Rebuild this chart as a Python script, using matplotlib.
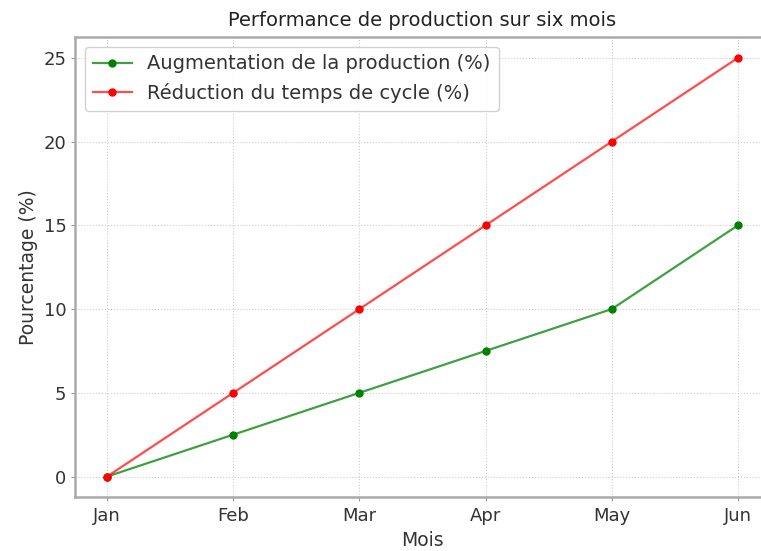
import matplotlib.pyplot as plt

months = ['Jan', 'Feb', 'Mar', 'Apr', 'May', 'Jun']
production = [0, 2.5, 5, 7.5, 10, 15]
cycle_time = [0, 5, 10, 15, 20, 25]

plt.rcParams['font.family'] = ['DejaVu Sans']

fig = plt.figure(figsize=(7.61, 5.51), dpi=100)
ax = fig.add_axes([0.0992, 0.0971, 0.912, 0.836])

ax.plot(months, production, color=(0, 0.5, 0, 0.75), linewidth=1.6,
        marker='o', markersize=5, markerfacecolor='green', markeredgecolor='green',
        label='Augmentation de la production (%)')
ax.plot(months, cycle_time, color=(1, 0, 0, 0.7), linewidth=1.6,
        marker='o', markersize=5, markerfacecolor='red', markeredgecolor='red',
        label='Réduction du temps de cycle (%)')

ax.set_title('Performance de production sur six mois', fontsize=14, pad=8, color='#222222')
ax.set_xlabel('Mois', fontsize=13.5, color='#333333', labelpad=5)
ax.set_ylabel('Pourcentage (%)', fontsize=13.5, color='#333333')
ax.set_yticks([0, 5, 10, 15, 20, 25])
ax.tick_params(labelsize=13, color='#999999', length=3, labelcolor='#333333')
ax.grid(True, linestyle=':', color='#cccccc', linewidth=0.8)
for s in ax.spines.values():
    s.set_color('#aaaaaa')
    s.set_linewidth(1.8)
ax.spines['right'].set_visible(False)

leg = ax.legend(loc='upper left', fontsize=14, framealpha=0.9)
for t in leg.get_texts():
    t.set_color('#333333')

plt.savefig('out.png')
